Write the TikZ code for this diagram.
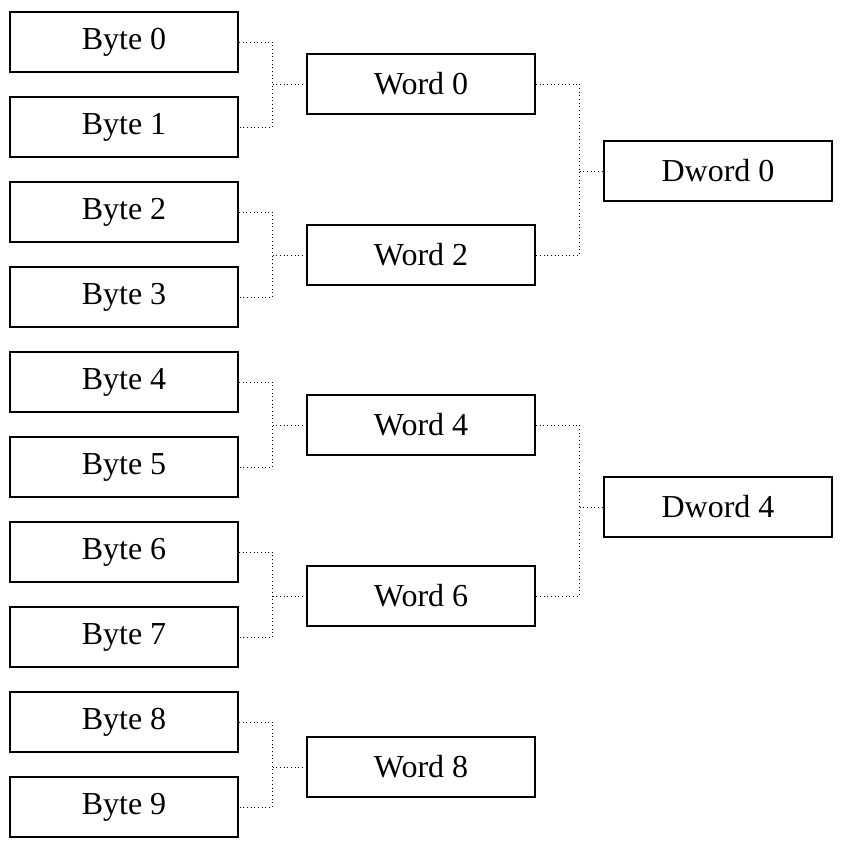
\documentclass[tikz,border=0pt]{standalone}
\usepackage{fontspec}
\setmainfont{Liberation Serif}
\usetikzlibrary{calc}
\tikzset{
box/.style={draw,line width=1.5pt,minimum width=171pt,minimum height=45pt,inner sep=0pt,font=\fontsize{24}{28}\selectfont},
link/.style={dotted,line width=0.75pt}}

\begin{document}
\begin{tikzpicture}[x=0.75pt,y=-0.75pt]
\useasboundingbox (0,0) rectangle (843,847);

\foreach \i in {0,...,9}
  \node[box] (b\i) at (124,42+85*\i) {Byte \i};

\foreach \i/\y in {0/84,2/255,4/425,6/596,8/767}
  \node[box] (w\i) at (421,\y) {Word \i};

\node[box] (d0) at (718,171) {Dword 0};
\node[box] (d4) at (718,507) {Dword 4};

\foreach \a/\b/\w in {0/1/0,2/3/2,4/5/4,6/7/6,8/9/8}{
  \coordinate (j\w) at ($(b\a.east)!0.5!(w\w.west)$);
  \draw[link] (b\a.east) -| (j\w) |- (b\b.east);
  \draw[link] (j\w |- w\w.west) -- (w\w.west);
}

\foreach \a/\b/\d in {0/2/0,4/6/4}{
  \coordinate (k\d) at ($(w\a.east)!0.65!(d\d.west)$);
  \draw[link] (w\a.east) -| (k\d) |- (w\b.east);
  \draw[link] (k\d |- d\d.west) -- (d\d.west);
}

\end{tikzpicture}
\end{document}
